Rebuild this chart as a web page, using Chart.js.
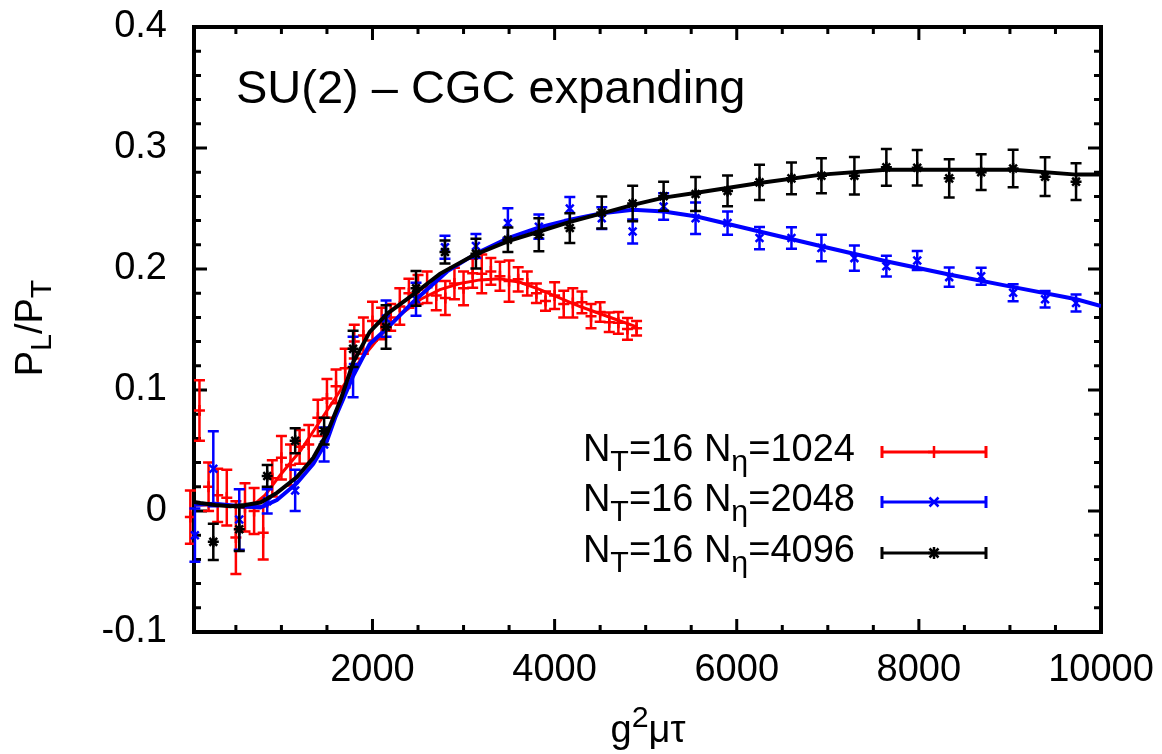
<!DOCTYPE html>
<html>
<head>
<meta charset="utf-8">
<script src="https://cdn.jsdelivr.net/npm/chart.js@4.4.0/dist/chart.umd.min.js"></script>
<style>
  html, body { margin: 0; padding: 0; background: #fff; }
  canvas { display: block; }
</style>
</head>
<body>
<canvas id="presion" width="1162" height="754"></canvas>
<script>
// N_eta = 1024 (rojo): puntos con barras de error y curva
const rojoX = [0, 100, 200, 300, 400, 500, 600, 700, 800, 900,
  1000, 1100, 1200, 1300, 1400, 1500, 1600, 1700, 1800, 1900,
  2000, 2100, 2200, 2300, 2400, 2500, 2600, 2700, 2800, 2900,
  3000, 3100, 3200, 3300, 3400, 3500, 3600, 3700, 3800, 3900,
  4000, 4100, 4200, 4300, 4400, 4500, 4600, 4700, 4800, 4900];
const rojoY = [-0.005, 0.083, 0.02, 0.013, 0.011, -0.022, 0.003, 0.0, -0.018, 0.027,
  0.044, 0.038, 0.053, 0.055, 0.077, 0.093, 0.103, 0.118, 0.14, 0.145,
  0.157, 0.155, 0.16, 0.169, 0.18, 0.183, 0.185, 0.178, 0.176, 0.188,
  0.184, 0.1965, 0.196, 0.198, 0.194, 0.19, 0.1915, 0.188, 0.18, 0.1735,
  0.178, 0.171, 0.172, 0.1725, 0.161, 0.1645, 0.156, 0.1555, 0.1505, 0.151];
const rojoErr = [0.022, 0.025, 0.02, 0.022, 0.023, 0.03, 0.02, 0.019, 0.022, 0.015,
  0.018, 0.017, 0.014, 0.016, 0.015, 0.016, 0.014, 0.016, 0.014, 0.015,
  0.016, 0.013, 0.011, 0.015, 0.012, 0.012, 0.013, 0.012, 0.014, 0.013,
  0.014, 0.012, 0.016, 0.011, 0.012, 0.017, 0.01, 0.01, 0.008, 0.008,
  0.011, 0.011, 0.012, 0.009, 0.01, 0.008, 0.008, 0.009, 0.009, 0.006];
const rojoCurvaX = [0, 330, 660, 820, 990, 1210, 1430, 1650, 1870, 2090, 2300, 2530,
  2740, 2960, 3180, 3400, 3620, 3840, 4060, 4280, 4500, 4720, 4910];
const rojoCurvaY = [0.005, 0.005, 0.003, 0.013, 0.03, 0.05, 0.075, 0.1, 0.125, 0.145, 0.162, 0.175,
  0.183, 0.188, 0.191, 0.192, 0.189, 0.183, 0.176, 0.169, 0.163, 0.157, 0.152];

// N_eta = 2048 (azul)
const azulX = [50, 252, 537, 844, 1151, 1469, 1787, 2149, 2478, 2796, 3136, 3487, 3827, 4167, 4518,
  4857, 5197, 5548, 5899, 6250, 6601, 6930, 7292, 7643, 7982, 8333, 8684, 9035, 9386, 9726];
const azulY = [-0.02, 0.035, -0.007, 0.008, 0.017, 0.055, 0.119, 0.159, 0.175, 0.218, 0.219, 0.238, 0.235, 0.25, 0.242,
  0.231, 0.2516, 0.242, 0.238, 0.2256, 0.2256, 0.2174, 0.209, 0.2023, 0.207, 0.1933, 0.194, 0.1804, 0.175, 0.1719];
const azulErr = [0.022, 0.031, 0.025, 0.01, 0.017, 0.014, 0.025, 0.015, 0.0137, 0.0095, 0.01, 0.0123, 0.01, 0.0096, 0.009,
  0.01, 0.011, 0.013, 0.0096, 0.0092, 0.0089, 0.011, 0.0104, 0.0086, 0.0078, 0.008, 0.007, 0.0071, 0.0069, 0.0071];
const azulCurvaX = [0, 270, 550, 770, 950, 1170, 1350, 1500, 1590, 1790, 1970, 2160, 2450, 2820, 3150,
  3490, 3830, 4170, 4520, 4860, 5200, 5560, 6250, 6930, 7640, 8330, 9040, 9730, 10000];
const azulCurvaY = [0.005, 0.006, 0.004, 0.003, 0.009, 0.023, 0.039, 0.058, 0.077, 0.112, 0.138, 0.151, 0.173, 0.198, 0.2133,
  0.2256, 0.2344, 0.2407, 0.246, 0.249, 0.2475, 0.2434, 0.231, 0.2188, 0.2064, 0.1955, 0.185, 0.175, 0.1694];

// N_eta = 4096 (negro)
const negroX = [252, 537, 844, 1151, 1469, 1787, 2149, 2478, 2796, 3136, 3487, 3827, 4167, 4518,
  4857, 5197, 5548, 5899, 6250, 6601, 6930, 7292, 7643, 7982, 8333, 8684, 9035, 9386, 9726];
const negroY = [-0.0255, -0.015, 0.029, 0.058, 0.066, 0.134, 0.152, 0.184, 0.214, 0.2127, 0.2242, 0.2283, 0.2338, 0.2467,
  0.2541, 0.2601, 0.262, 0.2645, 0.2716, 0.2749, 0.2771, 0.2771, 0.284, 0.2837, 0.2749, 0.28, 0.2831, 0.2763, 0.2722];
const negroErr = [0.015, 0.018, 0.009, 0.0103, 0.011, 0.015, 0.018, 0.0144, 0.0095, 0.0123, 0.0101, 0.0137, 0.0123, 0.0133,
  0.0147, 0.012, 0.014, 0.0127, 0.0146, 0.0132, 0.0144, 0.0155, 0.0151, 0.0147, 0.0159, 0.0148, 0.0155, 0.016, 0.0151];
const negroCurvaX = [0, 110, 270, 440, 600, 770, 950, 1170, 1350, 1500, 1650, 1790, 1970, 2160, 2450, 2740,
  3100, 3490, 3830, 4170, 4520, 4860, 5200, 5560, 6250, 6930, 7640, 8330, 9040, 9730, 10000];
const negroCurvaY = [0.008, 0.0066, 0.005, 0.004, 0.005, 0.007, 0.015, 0.028, 0.044, 0.064, 0.092, 0.123, 0.148, 0.163, 0.179, 0.196,
  0.211, 0.223, 0.231, 0.239, 0.246, 0.253, 0.259, 0.263, 0.271, 0.278, 0.282, 0.282, 0.282, 0.278, 0.278];

// ejes
const ticksX = [2000, 4000, 6000, 8000, 10000];
const ticksY = [-0.1, 0, 0.1, 0.2, 0.3, 0.4];
const etiquetasY = ['-0.1', '0', '0.1', '0.2', '0.3', '0.4'];

const FUENTE = '"Liberation Sans", Arial, sans-serif';
const ROJO = '#ff0000', AZUL = '#0000ff', NEGRO = '#000000';

const puntos = (xs, ys) => xs.map((x, i) => ({ x: x, y: ys[i] }));

// barras de error verticales, dibujadas justo despues de cada serie
const barrasError = {
  id: 'barrasError',
  afterDatasetDraw(chart, args) {
    const ds = chart.data.datasets[args.index];
    if (!ds.errores) return;
    const ctx = chart.ctx;
    const ey = chart.scales.y;
    ctx.save();
    ctx.strokeStyle = ds.borderColor;
    ctx.lineWidth = 2.5;
    ctx.beginPath();
    args.meta.data.forEach((p, i) => {
      const v = ds.data[i].y, e = ds.errores[i];
      const arriba = ey.getPixelForValue(v + e);
      const abajo = ey.getPixelForValue(v - e);
      ctx.moveTo(p.x, arriba); ctx.lineTo(p.x, abajo);
      ctx.moveTo(p.x - 5.5, arriba); ctx.lineTo(p.x + 5.5, arriba);
      ctx.moveTo(p.x - 5.5, abajo); ctx.lineTo(p.x + 5.5, abajo);
    });
    ctx.stroke();
    ctx.restore();
  }
};

// marco y marcas estilo gnuplot
const marco = {
  id: 'marco',
  beforeDatasetsDraw(chart) {
    const { ctx, chartArea: a, scales: { x, y } } = chart;
    ctx.save();
    ctx.strokeStyle = '#000';
    ctx.lineWidth = 3;
    ctx.beginPath();
    for (let v = 500; v <= 10000; v += 500) {
      const px = x.getPixelForValue(v);
      const largo = v % 2000 === 0 ? 13 : 7;
      ctx.moveTo(px, a.bottom); ctx.lineTo(px, a.bottom - largo);
      ctx.moveTo(px, a.top); ctx.lineTo(px, a.top + largo);
    }
    for (let k = -5; k <= 20; k++) {
      const py = y.getPixelForValue(k * 0.02);
      const largo = k % 5 === 0 ? 13 : 7;
      ctx.moveTo(a.left, py); ctx.lineTo(a.left + largo, py);
      ctx.moveTo(a.right, py); ctx.lineTo(a.right - largo, py);
    }
    ctx.stroke();
    ctx.lineWidth = 4;
    ctx.strokeRect(a.left, a.top, a.right - a.left, a.bottom - a.top);
    ctx.restore();
  }
};

// texto con subindices: [texto, desplazamiento vertical]
function textoCompuesto(ctx, partes, x, y, tam, alinear) {
  const medir = p => {
    ctx.font = (p[1] !== 0 ? tam * 0.8 : tam) + 'px ' + FUENTE;
    return ctx.measureText(p[0]).width;
  };
  const total = partes.reduce((s, p) => s + medir(p), 0);
  let cx = alinear === 'right' ? x - total : alinear === 'center' ? x - total / 2 : x;
  partes.forEach(p => {
    const w = medir(p);
    ctx.fillText(p[0], cx, y + p[1]);
    cx += w;
  });
}

function marcador(ctx, tipo, x, y, r) {
  ctx.beginPath();
  if (tipo === 'cross' || tipo === 'star') {
    ctx.moveTo(x, y - r); ctx.lineTo(x, y + r);
    ctx.moveTo(x - r, y); ctx.lineTo(x + r, y);
  }
  if (tipo === 'crossRot' || tipo === 'star') {
    const d = r * 0.75;
    ctx.moveTo(x - d, y - d); ctx.lineTo(x + d, y + d);
    ctx.moveTo(x - d, y + d); ctx.lineTo(x + d, y - d);
  }
  ctx.stroke();
}

const textos = {
  id: 'textos',
  afterDraw(chart) {
    const ctx = chart.ctx;
    ctx.save();
    ctx.fillStyle = '#000';
    ctx.textAlign = 'left';
    ctx.textBaseline = 'alphabetic';

    ctx.font = '47px ' + FUENTE;
    ctx.fillText('SU(2) \u2013 CGC expanding', 236, 103);

    textoCompuesto(ctx, [['g', 0], ['2', -15], ['\u03bc\u03c4', 0]], 648, 742, 38, 'center');

    ctx.save();
    ctx.translate(42, 328);
    ctx.rotate(-Math.PI / 2);
    textoCompuesto(ctx, [['P', 0], ['L', 9], ['/', 0], ['P', 0], ['T', 9]], 0, 0, 38, 'center');
    ctx.restore();

    // leyenda
    const filas = [
      { eta: '1024', color: ROJO, tipo: 'cross', y: 452 },
      { eta: '2048', color: AZUL, tipo: 'crossRot', y: 502 },
      { eta: '4096', color: NEGRO, tipo: 'star', y: 553 }
    ];
    filas.forEach(f => {
      ctx.fillStyle = '#000';
      textoCompuesto(ctx, [['N', 0], ['T', 10], ['=16 N', 0], ['\u03b7', 10], ['=' + f.eta, 0]], 855, f.y + 9, 38, 'right');
      ctx.strokeStyle = f.color;
      ctx.lineWidth = 3;
      ctx.beginPath();
      ctx.moveTo(882, f.y); ctx.lineTo(986, f.y);
      ctx.moveTo(882, f.y - 6); ctx.lineTo(882, f.y + 6);
      ctx.moveTo(986, f.y - 6); ctx.lineTo(986, f.y + 6);
      ctx.stroke();
      ctx.lineWidth = 2.5;
      marcador(ctx, f.tipo, 934, f.y, 6);
    });
    ctx.restore();
  }
};

const curva = (xs, ys, color, orden) => ({
  data: puntos(xs, ys),
  showLine: true,
  borderColor: color,
  borderWidth: 4,
  pointRadius: 0,
  order: orden
});

const conBarras = (xs, ys, errs, color, estilo, orden) => ({
  data: puntos(xs, ys),
  errores: errs,
  showLine: false,
  borderColor: color,
  backgroundColor: color,
  pointStyle: estilo,
  pointRadius: 5.5,
  pointBorderWidth: 2.5,
  clip: false,
  order: orden
});

const ctx = document.getElementById('presion').getContext('2d');

new Chart(ctx, {
  type: 'scatter',
  data: {
    datasets: [
      Object.assign(curva(rojoCurvaX, rojoCurvaY, ROJO, 6), { borderWidth: 3 }),
      conBarras(rojoX, rojoY, rojoErr, ROJO, 'cross', 5),
      curva(azulCurvaX, azulCurvaY, AZUL, 4),
      conBarras(azulX, azulY, azulErr, AZUL, 'crossRot', 3),
      curva(negroCurvaX, negroCurvaY, NEGRO, 2),
      conBarras(negroX, negroY, negroErr, NEGRO, 'star', 1)
    ]
  },
  options: {
    responsive: false,
    animation: false,
    events: [],
    layout: { padding: { top: 27, right: 61, left: 0, bottom: 0 } },
    plugins: {
      legend: { display: false },
      tooltip: { enabled: false }
    },
    scales: {
      x: {
        type: 'linear',
        min: 40,
        max: 10000,
        afterFit: s => { s.height = 122; s.paddingLeft = 0; s.paddingRight = 0; },
        afterBuildTicks: s => { s.ticks = ticksX.map(v => ({ value: v })); },
        grid: { display: false, drawTicks: false },
        border: { display: false },
        ticks: {
          color: '#000',
          padding: 16,
          maxRotation: 0,
          autoSkip: false,
          font: { family: FUENTE, size: 38 },
          callback: v => String(v)
        }
      },
      y: {
        type: 'linear',
        min: -0.1,
        max: 0.4,
        afterFit: s => { s.width = 194; s.paddingTop = 0; s.paddingBottom = 0; },
        afterBuildTicks: s => { s.ticks = ticksY.map(v => ({ value: v })); },
        grid: { display: false, drawTicks: false },
        border: { display: false },
        ticks: {
          color: '#000',
          padding: 27,
          font: { family: FUENTE, size: 38 },
          callback: (v, i) => etiquetasY[i]
        }
      }
    }
  },
  plugins: [marco, barrasError, textos]
});
</script>
</body>
</html>
